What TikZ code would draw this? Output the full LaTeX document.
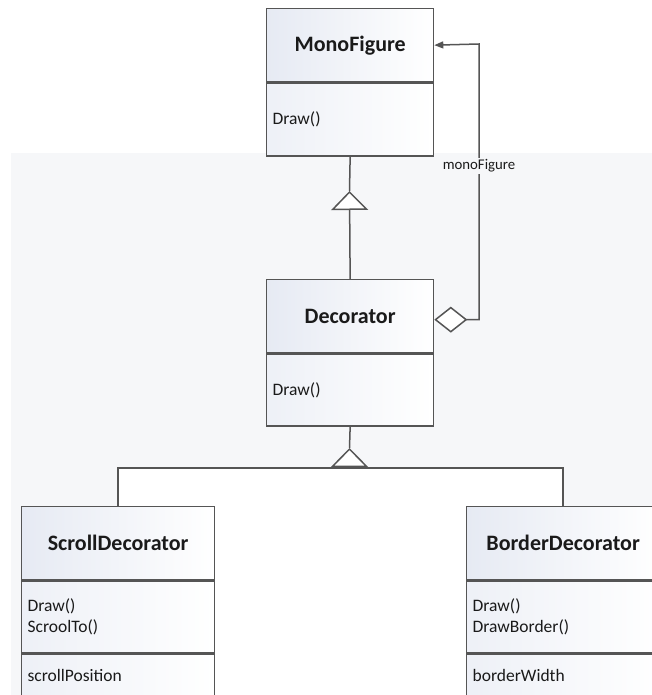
\documentclass[tikz,border=0pt]{standalone}
\usepackage{fontspec}
\setmainfont{Carlito}
\usepackage{tikz}
\usetikzlibrary{arrows.meta, positioning}
\definecolor{umlgray}{HTML}{555555}
\definecolor{classtint}{HTML}{E6EAF3}
\definecolor{paneltint}{HTML}{F6F7F9}
\definecolor{inktext}{HTML}{1A1A1A}

\begin{document}
\begin{tikzpicture}[
    x=1pt, y=-1pt,
    classname/.style={
        rectangle,
        draw=umlgray,
        line width=1.3pt,
        left color=classtint,
        right color=white,
        minimum width=#1,
        minimum height=73pt,
        inner sep=0pt,
        text=inktext,
        font=\fontsize{22}{26}\selectfont\bfseries
    },
    members/.style 2 args={
        rectangle,
        draw=umlgray,
        line width=1.3pt,
        left color=classtint!70,
        right color=white,
        text width=#1,
        minimum height=#2,
        inner xsep=6pt,
        inner ysep=0pt,
        align=left,
        text=inktext,
        font=\fontsize{17.5}{21}\selectfont
    },
    link/.style={draw=umlgray, line width=1.5pt},
    gen/.style={link, -{Triangle[length=19pt, width=37pt, fill=white]}},
    aggr/.style={link, {Diamond[length=33pt, width=26pt, fill=white]}-{Triangle[length=9pt, width=7pt]}},
    rolelabel/.style={fill=paneltint, inner sep=1.5pt, text=inktext, font=\fontsize{14.8}{17}\selectfont}
]

\path[use as bounding box] (0,0) rectangle (652,695);
\clip (0,0) rectangle (652,695);
\fill[paneltint] (11,153) rectangle (652,695);
\fill[white] (118,468) rectangle (563,695);

\node[classname=167pt, anchor=north west] (mono) at (266,8) {MonoFigure};
\node[members={155pt}{73pt}, below=0pt of mono] (monoOps) {Draw()};

\node[classname=167pt, anchor=north west] (deco) at (266,279) {Decorator};
\node[members={155pt}{72pt}, below=0pt of deco] (decoOps) {Draw()};

\node[classname=193pt, anchor=north west] (scroll) at (21,506) {ScrollDecorator};
\node[members={181pt}{72pt}, below=0pt of scroll] (scrollOps) {Draw()\\ScroolTo()};
\node[members={181pt}{43pt}, below=0pt of scrollOps] (scrollAttr) {scrollPosition};

\node[classname=193pt, anchor=north west] (border) at (466,506) {BorderDecorator};
\node[members={181pt}{72pt}, below=0pt of border] (borderOps) {Draw()\\DrawBorder()};
\node[members={181pt}{43pt}, below=0pt of borderOps] (borderAttr) {borderWidth};

\coordinate (genMono) at (349.5,191);
\coordinate (genDeco) at (349.5,448);
\coordinate (fork) at (349.5,468);
\coordinate (roleBend) at (479,44);

\draw[link] (monoOps.south) -- (genMono);
\draw[gen] (deco.north) -- (genMono);
\draw[link] (decoOps.south) -- (genDeco);
\draw[link] (scroll.north) |- (fork) -| (border.north);
\draw[gen] (fork) -- (genDeco);
\draw[aggr] ([yshift=-3.5pt]deco.east) -| (roleBend) -- (mono.east);

\node[rolelabel] (roleLbl) at (479,166) {monoFigure};

\end{tikzpicture}
\end{document}
